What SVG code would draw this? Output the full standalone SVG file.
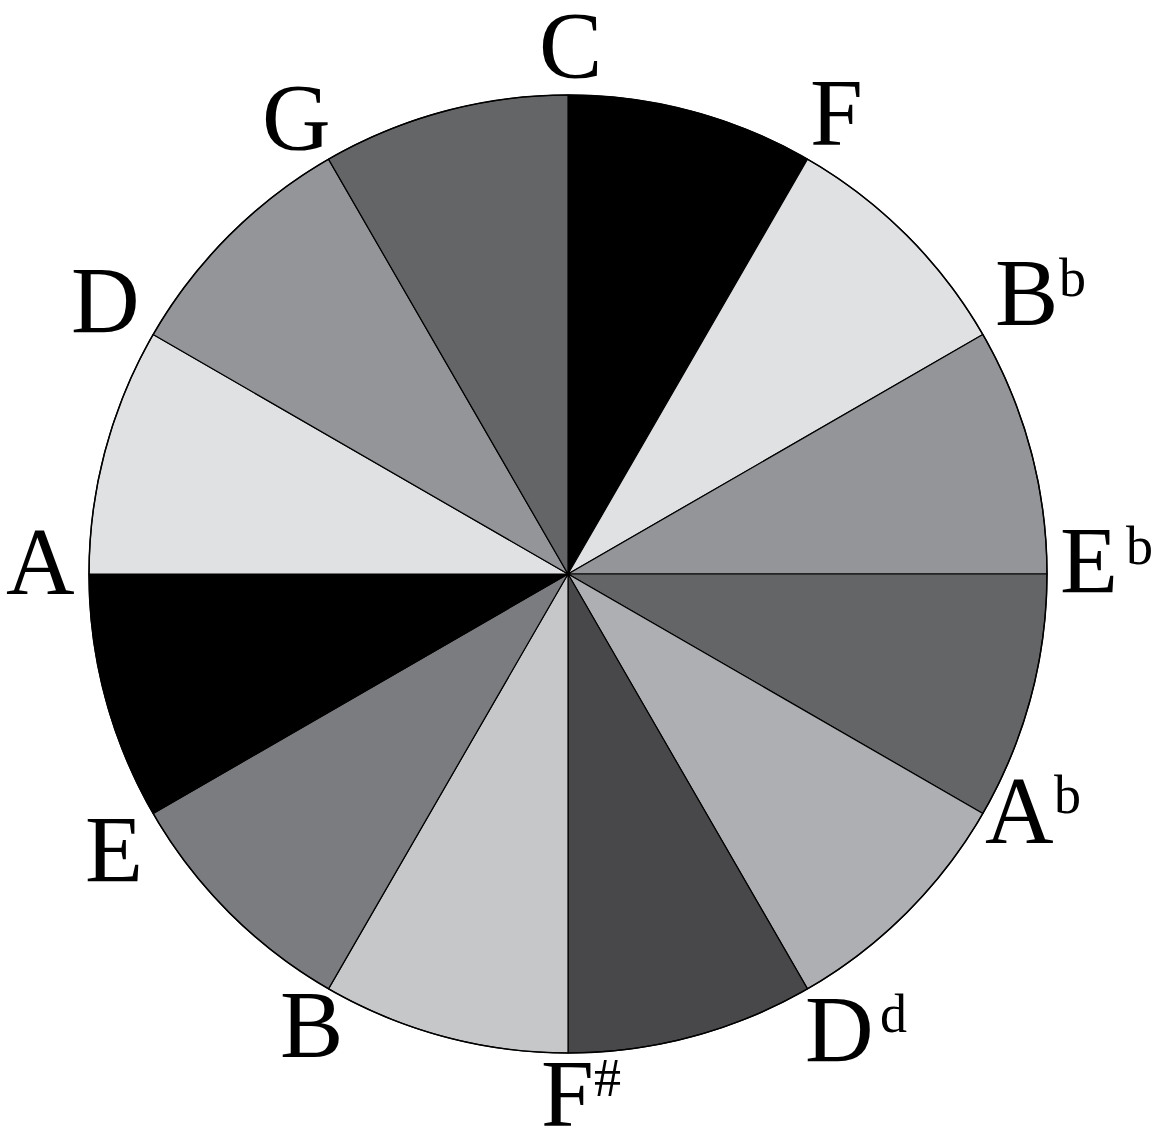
<svg xmlns="http://www.w3.org/2000/svg" width="1156" height="1126" viewBox="0 0 1156 1126">
<style>
.w{stroke:#000;stroke-width:1.2;stroke-linejoin:round}
.t{font-family:"Liberation Serif","Times New Roman",serif;font-size:95px;fill:#000}
.s{font-family:"Liberation Serif","Times New Roman",serif;font-size:54px;fill:#000}
</style>
<rect width="1156" height="1126" fill="#fff"/>
<g id="wedges">
<path id="w-C-F" class="w" fill="#000" d="M568,574 L568,95 A479,479 0 0 1 807.5,159.17 Z"/>
<path id="w-F-Bb" class="w" fill="#e0e1e3" d="M568,574 L807.5,159.17 A479,479 0 0 1 982.83,334.5 Z"/>
<path id="w-Bb-Eb" class="w" fill="#939598" d="M568,574 L982.83,334.5 A479,479 0 0 1 1047,574 Z"/>
<path id="w-Eb-Ab" class="w" fill="#646567" d="M568,574 L1047,574 A479,479 0 0 1 982.83,813.5 Z"/>
<path id="w-Ab-Dd" class="w" fill="#aeafb2" d="M568,574 L982.83,813.5 A479,479 0 0 1 807.5,988.83 Z"/>
<path id="w-Dd-Fs" class="w" fill="#48484a" d="M568,574 L807.5,988.83 A479,479 0 0 1 568,1053 Z"/>
<path id="w-Fs-B" class="w" fill="#c6c7c9" d="M568,574 L568,1053 A479,479 0 0 1 328.5,988.83 Z"/>
<path id="w-B-E" class="w" fill="#7b7c7f" d="M568,574 L328.5,988.83 A479,479 0 0 1 153.17,813.5 Z"/>
<path id="w-E-A" class="w" fill="#000" d="M568,574 L153.17,813.5 A479,479 0 0 1 89,574 Z"/>
<path id="w-A-D" class="w" fill="#e0e1e3" d="M568,574 L89,574 A479,479 0 0 1 153.17,334.5 Z"/>
<path id="w-D-G" class="w" fill="#939598" d="M568,574 L153.17,334.5 A479,479 0 0 1 328.5,159.17 Z"/>
<path id="w-G-C" class="w" fill="#646567" d="M568,574 L328.5,159.17 A479,479 0 0 1 568,95 Z"/>
<circle cx="568" cy="574" r="479" fill="none" stroke="#000" stroke-width="1.5"/>
</g>
<g id="labels">
<g id="l-C"><text class="t" x="539" y="78">C</text></g>
<g id="l-F"><text class="t" x="810" y="145">F</text></g>
<g id="l-Bb"><text class="t" x="995" y="325">B</text><text class="s" x="1059" y="296">b</text></g>
<g id="l-Eb"><text class="t" x="1060" y="593">E</text><text class="s" x="1126" y="564">b</text></g>
<g id="l-Ab"><text class="t" x="985" y="843">A</text><text class="s" x="1054" y="813">b</text></g>
<g id="l-Dd"><text class="t" x="805" y="1062">D</text><text class="s" x="880" y="1032">d</text></g>
<g id="l-Fs"><text class="t" x="541" y="1126">F</text><text class="s" x="594" y="1096">#</text></g>
<g id="l-B"><text class="t" x="280" y="1057">B</text></g>
<g id="l-E"><text class="t" x="85" y="882">E</text></g>
<g id="l-A"><text class="t" x="6" y="594">A</text></g>
<g id="l-D"><text class="t" x="71" y="333">D</text></g>
<g id="l-G"><text class="t" x="262" y="150">G</text></g>
</g>
</svg>
